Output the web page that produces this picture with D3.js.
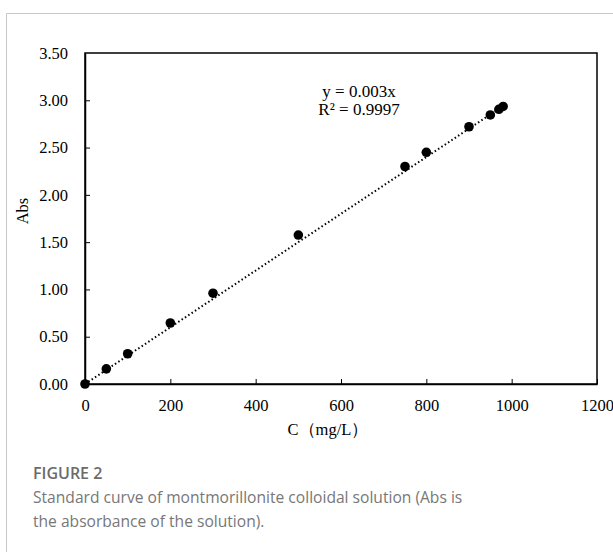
<!DOCTYPE html>
<html>
<head>
<meta charset="utf-8">
<script src="https://cdn.jsdelivr.net/npm/d3@7"></script>
<style>
  body { margin: 0; background: #fff; }
  .caption-title { font-family: "Open Sans", sans-serif; font-size: 16px; fill: #6b6b6b; font-weight: 600; }
  .caption { font-family: "Open Sans", sans-serif; font-size: 15.6px; fill: #777; }
</style>
</head>
<body>
<svg width="613" height="552"></svg>
<script>
// data
var conc = [0, 50, 100, 200, 300, 500, 750, 800, 900, 950, 970, 980];
var abs  = [0, 0.16, 0.32, 0.645, 0.96, 1.575, 2.30, 2.45, 2.72, 2.845, 2.905, 2.935];
var xTicks = [0, 200, 400, 600, 800, 1000, 1200];
var yTicks = [0, 0.5, 1, 1.5, 2, 2.5, 3, 3.5];
var slope = 0.003;

var svg = d3.select("svg");

// card border (top and left)
svg.append("path")
  .attr("d", "M6.5,552 V13.5 H613")
  .attr("fill", "none")
  .attr("stroke", "#c8c8c8")
  .attr("stroke-width", 1);

var margin = {top: 53, left: 85};

var x = d3.scaleLinear().domain([0, 1200]).range([0, 512]),
    y = d3.scaleLinear().domain([0, 3.5]).range([331, 0]);

var g = svg.append("g")
  .attr("transform", "translate(" + margin.left + "," + margin.top + ")");

var serif = "'Liberation Serif', 'Times New Roman', serif";

// frame
g.append("rect")
  .attr("x", x(0)).attr("y", y(3.5))
  .attr("width", x(1200) - x(0)).attr("height", y(0) - y(3.5))
  .attr("fill", "none").attr("stroke", "#000").attr("stroke-width", 1.5);

// x axis
var xa = g.append("g")
  .attr("transform", "translate(0," + y(0) + ")")
  .call(d3.axisBottom(x).tickValues(xTicks).tickSizeInner(-5).tickSizeOuter(0).tickPadding(15).tickFormat(d3.format("d")));
xa.select(".domain").attr("stroke-width", 1.5);
xa.selectAll("text").attr("font-family", serif).attr("font-size", "16.5px").attr("fill", "#000");

// y axis
var ya = g.append("g")
  .call(d3.axisLeft(y).tickValues(yTicks).tickSizeInner(-5).tickSizeOuter(0).tickPadding(17).tickFormat(d3.format(".2f")));
ya.select(".domain").attr("stroke-width", 1.5);
ya.selectAll("text").attr("font-family", serif).attr("font-size", "16.5px").attr("fill", "#000");
ya.selectAll(".tick").filter(function(d) { return d === 3.5; }).select("line").remove();

// trend line
var xmax = d3.max(conc);
g.append("line")
  .attr("x1", x(0)).attr("y1", y(0))
  .attr("x2", x(xmax)).attr("y2", y(slope * xmax))
  .attr("stroke", "#000").attr("stroke-width", 2)
  .attr("stroke-dasharray", "1.5,2.5");

// points
g.selectAll(".pt")
  .data(conc)
  .enter().append("circle")
    .attr("class", "pt")
    .attr("cx", function(d) { return x(d); })
    .attr("cy", function(d, i) { return y(abs[i]); })
    .attr("r", 4.8)
    .attr("fill", "#000");

// equation
g.append("text")
  .attr("x", 274).attr("y", 44)
  .attr("text-anchor", "middle")
  .attr("font-family", serif).attr("font-size", "17px")
  .text("y = 0.003x");
g.append("text")
  .attr("x", 274).attr("y", 62)
  .attr("text-anchor", "middle")
  .attr("font-family", serif).attr("font-size", "17px")
  .text("R² = 0.9997");

// axis titles
g.append("text")
  .attr("transform", "translate(-57,158) rotate(-90)")
  .attr("text-anchor", "middle")
  .attr("font-family", serif).attr("font-size", "16.5px")
  .text("Abs");
g.append("text")
  .attr("x", 243).attr("y", 382)
  .attr("text-anchor", "middle")
  .attr("font-family", serif).attr("font-size", "16.5px")
  .text("C（mg/L）");

// caption
svg.append("text").attr("class", "caption-title").attr("x", 33).attr("y", 479).text("FIGURE 2");
svg.append("text").attr("class", "caption").attr("x", 33).attr("y", 503)
  .text("Standard curve of montmorillonite colloidal solution (Abs is");
svg.append("text").attr("class", "caption").attr("x", 33).attr("y", 527)
  .text("the absorbance of the solution).");
</script>
</body>
</html>
